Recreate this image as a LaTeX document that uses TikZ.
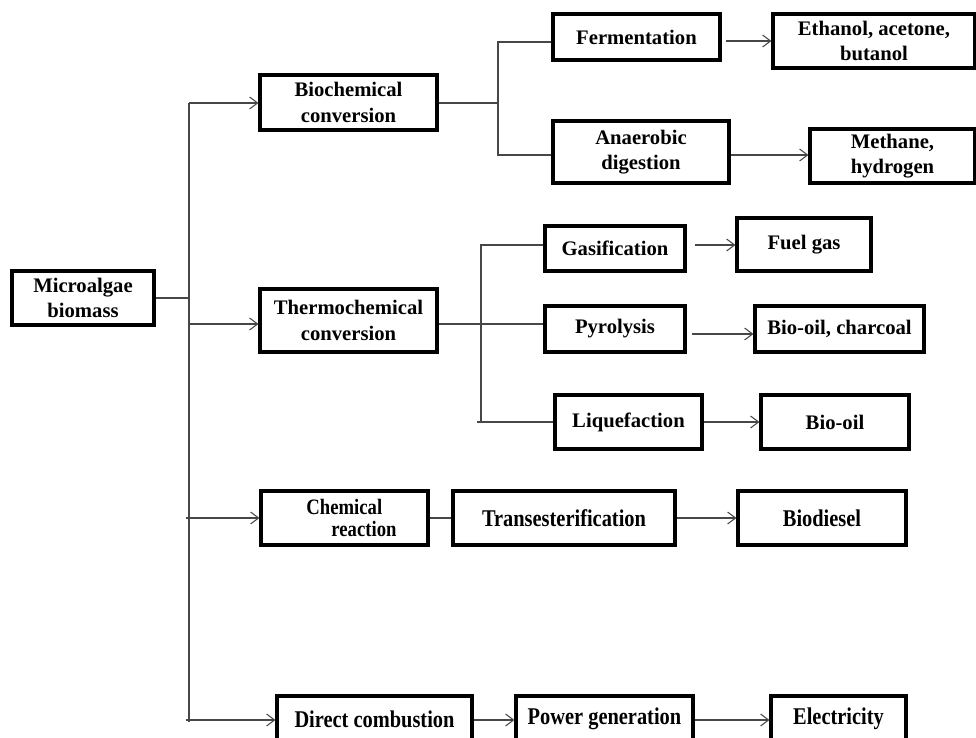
\documentclass[tikz,border=0pt]{standalone}
\usepackage{fontspec}
\setmainfont{Liberation Serif}
\newfontfamily\narrowserif{Liberation Serif}[FakeStretch=0.85]
\usetikzlibrary{arrows.meta}
\begin{document}
\begin{tikzpicture}[x=0.75pt,y=-0.75pt,
  box/.style={draw=black, line width=2.3pt, inner sep=0pt, align=center,
    font=\bfseries\fontsize{15.5}{19}\selectfont},
  nbox/.style={box, font=\narrowserif\bfseries\fontsize{18}{19}\selectfont},
  sz/.style 2 args={minimum width=#1*0.75pt, minimum height=#2*0.75pt},
  conn/.style={draw=black!72, line width=0.9pt},
  arr/.style={conn, -{Straight Barb[length=6pt, width=9pt, line width=0.8pt]}}
]
\useasboundingbox (0,0) rectangle (976,738);
\clip (0,0) rectangle (976,738);

% nodes
\node[box, sz={142}{54}] (mb) at (83,298) {Microalgae\\biomass};
\node[box, sz={177}{55}] (bc) at (348.5,102.5) {Biochemical\\conversion};
\node[box, sz={177}{63}] (tc) at (348.5,320.5) {Thermochemical\\conversion};

\node[box, sz={167}{46}] (fe) at (636.5,37) {Fermentation};
\node[box, sz={202}{54}] (et) at (874,41) {Ethanol, acetone,\\butanol};
\node[box, sz={176}{62}] (ad) at (641,152) {Anaerobic\\digestion};
\node[box, sz={165}{54}] (mh) at (892.5,156) {Methane,\\hydrogen};

\node[box, sz={140}{45}] (ga) at (615,248.5) {Gasification};
\node[box, sz={134}{53}] (fg) at (804,244.5) {Fuel gas};
\node[box, sz={140}{46}] (py) at (615,329) {Pyrolysis};
\node[box, sz={169}{46}] (bcc) at (839.5,329) {Bio-oil, charcoal};
\node[box, sz={147}{54}] (lq) at (628.5,422) {Liquefaction};
\node[box, sz={148}{54}] (bo) at (835,422) {Bio-oil};

\node[nbox, sz={167}{54}, align=left, font=\narrowserif\bfseries\fontsize{16.5}{16}\selectfont] (cr) at (344.5,518) {\hspace*{10.5pt}Chemical\\\hspace*{29.25pt}reaction};
\node[nbox, sz={222}{54}] (tr) at (564,518) {Transesterification};
\node[nbox, sz={168}{54}] (bd) at (822,518) {Biodiesel};

\node[nbox, sz={195}{46}] (dc) at (374.5,719) {Direct combustion};
\node[nbox, sz={177}{46}] (pg) at (604.5,719) {Power generation};
\node[nbox, sz={135}{46}] (el) at (838.5,719) {Electricity};

% trunk
\coordinate (t1) at (189,103);
\coordinate (t2) at (189,324);
\coordinate (tb) at (189,722);
\coordinate (t3) at (186,518);
\coordinate (t4) at (186,720);
\draw[conn] (mb.east) -- (mb.east -| t1);
\draw[conn] (t1) -- (tb);
\draw[arr] (t1) -- (bc.west |- t1);
\draw[arr] (t2) -- (tc.west |- t2);
\draw[arr] (t3) -- (cr.west |- t3);
\draw[arr] (t4) -- (dc.west |- t4);

% biochemical branch
\coordinate (b0) at (498,103);
\draw[conn] (bc.east |- b0) -- (b0);
\draw[conn] (fe.west |- 0,42) -| (b0) |- (ad.west |- 0,155);
\draw[arr, shorten <=3pt] (fe.east |- 0,41) -- (et.west |- 0,41);
\draw[arr] (ad.east |- 0,155) -- (mh.west |- 0,155);

% thermochemical branch
\coordinate (th) at (481,324);
\coordinate (tl) at (477,422);
\draw[conn] (tc.east |- th) -- (py.west |- th);
\draw[conn] (ga.west |- 0,245) -| (481,422);
\draw[conn] (tl) -- (lq.west |- tl);
\draw[arr, shorten <=6pt] (ga.east |- 0,245) -- (fg.west |- 0,245);
\draw[arr, shorten <=4pt] (py.east |- 0,334) -- (bcc.west |- 0,334);
\draw[arr] (lq.east) -- (bo.west);

% chemical branch
\draw[conn] (cr.east) -- (tr.west);
\draw[arr] (tr.east) -- (bd.west);

% combustion branch
\draw[arr] (dc.east |- 0,720) -- (pg.west |- 0,720);
\draw[arr] (pg.east |- 0,720) -- (el.west |- 0,720);
\end{tikzpicture}
\end{document}
